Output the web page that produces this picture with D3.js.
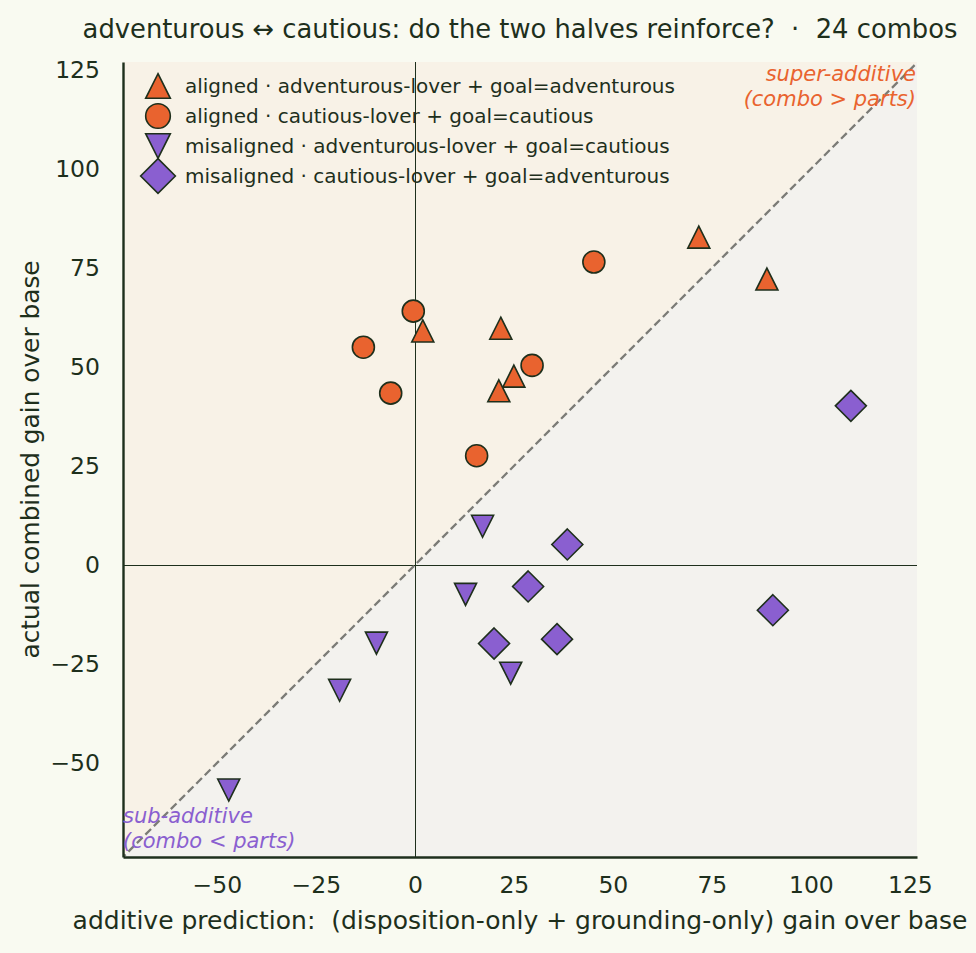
<!DOCTYPE html>
<html>
<head>
<meta charset="utf-8">
<script src="https://cdn.jsdelivr.net/npm/d3@7"></script>
<style>
  body { margin: 0; background: #f9faf1; }
  text { font-family: "DejaVu Sans", sans-serif; fill: #1e2f1c; }
</style>
</head>
<body>
<svg id="chart"></svg>
<script>
// additive prediction (x) vs actual combined gain (y), one array per group
const alignedAdventurous = [[2.0, 59.1], [21.7, 59.8], [25.0, 47.7], [21.2, 44.0], [71.7, 82.8], [88.9, 72.2]];
const alignedCautious = [[-0.4, 64.1], [-13.0, 55.0], [-6.1, 43.4], [29.6, 50.4], [15.6, 27.6], [45.2, 76.5]];
const misalignedAdventurous = [[17.1, 9.8], [12.8, -7.4], [-9.7, -19.7], [-19.0, -31.6], [24.2, -27.3], [-47.0, -56.8]];
const misalignedCautious = [[38.5, 5.2], [28.6, -5.4], [20.0, -19.8], [35.9, -18.7], [110.1, 40.2], [90.4, -11.4]];

const legendLabels = [
  "aligned · adventurous-lover + goal=adventurous",
  "aligned · cautious-lover + goal=cautious",
  "misaligned · adventurous-lover + goal=cautious",
  "misaligned · cautious-lover + goal=adventurous"
];
const xTicks = [-50, -25, 0, 25, 50, 75, 100, 125];
const yTicks = [-50, -25, 0, 25, 50, 75, 100, 125];

const width = 976, height = 953;
const margin = { top: 62, right: 59, bottom: 96, left: 123 };
const ORANGE = "#e9632f", PURPLE = "#8a5fd0", INK = "#1e2f1c";

const svg = d3.select("#chart")
  .attr("width", width)
  .attr("height", height);

svg.append("rect").attr("width", width).attr("height", height).attr("fill", "#f9faf1");

const x = d3.scaleLinear().domain([-73.7, 126.8]).range([margin.left, width - margin.right]);
const y = d3.scaleLinear().domain([-73.7, 127]).range([height - margin.bottom, margin.top]);

svg.append("clipPath").attr("id", "plot-clip")
  .append("rect")
  .attr("x", x.range()[0]).attr("y", y.range()[1])
  .attr("width", x.range()[1] - x.range()[0])
  .attr("height", y.range()[0] - y.range()[1]);

const plot = svg.append("g").attr("clip-path", "url(#plot-clip)");

// shaded halves either side of y = x
const big = 1000;
const line = d3.line().x(d => x(d[0])).y(d => y(d[1]));
plot.append("path").attr("d", line([[-big, -big], [big, big], [-big, big]]) + "Z").attr("fill", "#f8f2e7");
plot.append("path").attr("d", line([[-big, -big], [big, big], [big, -big]]) + "Z").attr("fill", "#f3f2ee");

// zero lines, snapped to the pixel grid so they stay crisp
const x0 = Math.round(x(0)) + 0.5, y0 = Math.round(y(0)) + 0.5;
plot.append("line").attr("x1", x0).attr("x2", x0).attr("y1", y.range()[0]).attr("y2", y.range()[1])
  .attr("stroke", INK).attr("stroke-width", 1);
plot.append("line").attr("x1", x.range()[0]).attr("x2", x.range()[1]).attr("y1", y0).attr("y2", y0)
  .attr("stroke", INK).attr("stroke-width", 1);

// y = x reference
plot.append("path").attr("d", line([[-big, -big], [big, big]]))
  .attr("stroke", "#7b7b76").attr("stroke-width", 2.3).attr("stroke-dasharray", "8,4").attr("fill", "none");

// marker shapes, centred on their bounding box like matplotlib
function markerPath(kind, s) {
  if (kind === "tri-up") return `M0,${-s}L${s},${s}L${-s},${s}Z`;
  if (kind === "tri-down") return `M0,${s}L${s},${-s}L${-s},${-s}Z`;
  if (kind === "diamond") return `M0,${-s}L${s},0L0,${s}L${-s},0Z`;
  return `M${s},0A${s},${s} 0 1,1 ${-s},0A${s},${s} 0 1,1 ${s},0Z`;
}

const groups = [
  { data: alignedAdventurous, kind: "tri-up", size: 11, color: ORANGE },
  { data: alignedCautious, kind: "circle", size: 11, color: ORANGE },
  { data: misalignedAdventurous, kind: "tri-down", size: 11, color: PURPLE },
  { data: misalignedCautious, kind: "diamond", size: 15.5, color: PURPLE }
];

groups.forEach(g => {
  svg.append("g").selectAll("path")
    .data(g.data)
    .enter().append("path")
    .attr("transform", d => `translate(${x(d[0])},${y(d[1])})`)
    .attr("d", markerPath(g.kind, g.size))
    .attr("fill", g.color)
    .attr("stroke", INK)
    .attr("stroke-width", 1.6);
});

// axes
const fmt = d => d < 0 ? "\u2212" + Math.abs(d) : d;
const xAxis = svg.append("g")
  .attr("transform", `translate(0,${y.range()[0]})`)
  .call(d3.axisBottom(x).tickValues(xTicks).tickSize(0).tickPadding(19).tickFormat(fmt));
const yAxis = svg.append("g")
  .attr("transform", `translate(${x.range()[0]},0)`)
  .call(d3.axisLeft(y).tickValues(yTicks).tickSize(0).tickPadding(23).tickFormat(fmt));

[xAxis, yAxis].forEach(a => {
  a.select(".domain").attr("stroke", INK).attr("stroke-width", 2.4);
  a.selectAll("text").attr("font-size", 23.5).attr("fill", INK).style("font-family", "DejaVu Sans");
});

// labels
svg.append("text")
  .attr("x", (x.range()[0] + x.range()[1]) / 2).attr("y", 38)
  .attr("text-anchor", "middle").attr("font-size", 25.8)
  .text("adventurous \u2194 cautious: do the two halves reinforce?  \u00b7  24 combos")
  .style("white-space", "pre");

svg.append("text")
  .attr("x", (x.range()[0] + x.range()[1]) / 2).attr("y", 929)
  .attr("text-anchor", "middle").attr("font-size", 25)
  .text("additive prediction:  (disposition-only + grounding-only) gain over base")
  .style("white-space", "pre");

svg.append("text")
  .attr("transform", `translate(39,${(y.range()[0] + y.range()[1]) / 2}) rotate(-90)`)
  .attr("text-anchor", "middle").attr("font-size", 24.8)
  .text("actual combined gain over base");

// region notes
const superNote = svg.append("text").attr("text-anchor", "end").attr("font-size", 21)
  .attr("font-style", "italic").style("fill", ORANGE);
superNote.append("tspan").attr("x", x.range()[1] - 1).attr("y", 81).text("super-additive");
superNote.append("tspan").attr("x", x.range()[1] - 1).attr("y", 106).text("(combo > parts)");

const subNote = svg.append("text").attr("text-anchor", "start").attr("font-size", 21)
  .attr("font-style", "italic").style("fill", PURPLE);
subNote.append("tspan").attr("x", x.range()[0]).attr("y", 823).text("sub-additive");
subNote.append("tspan").attr("x", x.range()[0]).attr("y", 848).text("(combo < parts)");

// legend
const legend = svg.append("g").attr("transform", "translate(158,86)");
const legendRows = legend.selectAll("g")
  .data(groups)
  .enter().append("g")
  .attr("transform", (d, i) => `translate(0,${i * 30})`);
legendRows.append("path")
  .attr("d", d => markerPath(d.kind, d.size * 1.12))
  .attr("fill", d => d.color)
  .attr("stroke", INK)
  .attr("stroke-width", 1.6);
legendRows.append("text")
  .attr("x", 27).attr("y", 6.5)
  .attr("font-size", 20)
  .text((d, i) => legendLabels[i]);
</script>
</body>
</html>
